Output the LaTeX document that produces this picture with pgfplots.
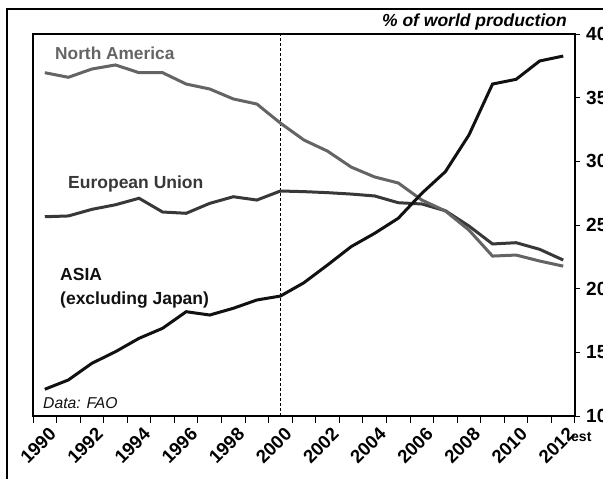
\documentclass[border=0pt]{standalone}
\usepackage{fontspec}
\setmainfont{Liberation Sans}
\usepackage{pgfplots}
\usepackage{pgfplotstable}
\pgfplotsset{compat=1.18}
\definecolor{nacol}{HTML}{646464}
\definecolor{eucol}{HTML}{383838}
\definecolor{ascol}{HTML}{111111}
\pgfplotstableread{
year NA EU ASIA
1990 36.96 25.65 12.10
1991 36.60 25.71 12.83
1992 37.25 26.23 14.14
1993 37.57 26.59 15.05
1994 36.96 27.10 16.10
1995 36.96 26.02 16.89
1996 36.07 25.92 18.19
1997 35.68 26.70 17.93
1998 34.90 27.22 18.46
1999 34.50 26.96 19.11
2000 33.00 27.67 19.42
2001 31.67 27.62 20.47
2002 30.80 27.54 21.86
2003 29.55 27.43 23.30
2004 28.77 27.28 24.35
2005 28.30 26.75 25.53
2006 26.96 26.65 27.49
2007 26.10 26.12 29.19
2008 24.60 24.92 32.07
2009 22.56 23.51 36.07
2010 22.64 23.61 36.44
2011 22.17 23.09 37.88
2012 21.77 22.25 38.27
}\datatable
\begin{document}
\begin{tikzpicture}
\begin{axis}[
  at={(33pt,-416pt)}, anchor=south west,
  scale only axis, width=542pt, height=382pt,
  xmin=1989.5, xmax=2012.5, ymin=10, ymax=40,
  axis line style={line width=1.6pt, black},
  xtick={1990,1992,...,2012},
  xticklabels={1990,1992,1994,1996,1998,2000,2002,2004,2006,2008,2010,2012},
  minor xtick={1989.5,1990.5,...,2012.5},
  major x tick style={draw=none},
  minor x tick style={line width=1pt, black},
  minor tick length=7pt,
  xtick pos=bottom,
  ytick={10,15,...,40},
  ytick pos=right, yticklabel pos=right,
  major tick length=5pt,
  tick align=outside,
  y tick style={line width=1pt, black},
  /pgf/number format/assume math mode=true,
  /pgf/number format/1000 sep={},
  x tick label style={font=\bfseries\fontsize{18.5}{18.5}\selectfont, inner sep=0pt, xshift=8pt, yshift=-10pt, rotate=45, anchor=east},
  y tick label style={font=\bfseries\fontsize{19}{19}\selectfont, inner sep=0pt, anchor=west, xshift=6pt},
  clip=false,
]
\draw[black, line width=0.8pt, dash pattern=on 3pt off 2pt] (axis cs:2000,10) -- (axis cs:2000,40);
\addplot[eucol, line width=3pt] table[x=year, y=EU] {\datatable};
\addplot[nacol, line width=3pt] table[x=year, y=NA] {\datatable};
\addplot[ascol, line width=3pt] table[x=year, y=ASIA] {\datatable};
\end{axis}
\draw[black, line width=1.3pt] (7pt,-490pt) -- (7pt,-9pt) -- (610pt,-9pt);
\node[anchor=base east, inner sep=0pt, font=\bfseries\itshape\fontsize{17.5}{17.5}\selectfont] at (567pt,-27pt) {\% of world production};
\node[anchor=base west, inner sep=0pt, text=nacol, font=\bfseries\fontsize{17.3}{17.3}\selectfont] at (55pt,-59pt) {North America};
\node[anchor=base west, inner sep=0pt, text=eucol, font=\bfseries\fontsize{17.5}{17.5}\selectfont] at (68pt,-188pt) {European Union};
\node[anchor=base west, inner sep=0pt, text=ascol, font=\bfseries\fontsize{17.5}{17.5}\selectfont] at (60pt,-280pt) {ASIA};
\node[anchor=base west, inner sep=0pt, text=ascol, font=\bfseries\fontsize{17.5}{17.5}\selectfont] at (60pt,-304pt) {(excluding Japan)};
\node[anchor=base west, inner sep=0pt, text=ascol, font=\itshape\fontsize{15.7}{15.7}\selectfont] at (43pt,-408pt) {Data: FAO};
\node[anchor=base west, inner sep=0pt, font=\bfseries\fontsize{14}{14}\selectfont] at (571pt,-441pt) {est};
\pgfresetboundingbox
\useasboundingbox (0,0) rectangle (603pt,-479pt);
\end{tikzpicture}
\end{document}
